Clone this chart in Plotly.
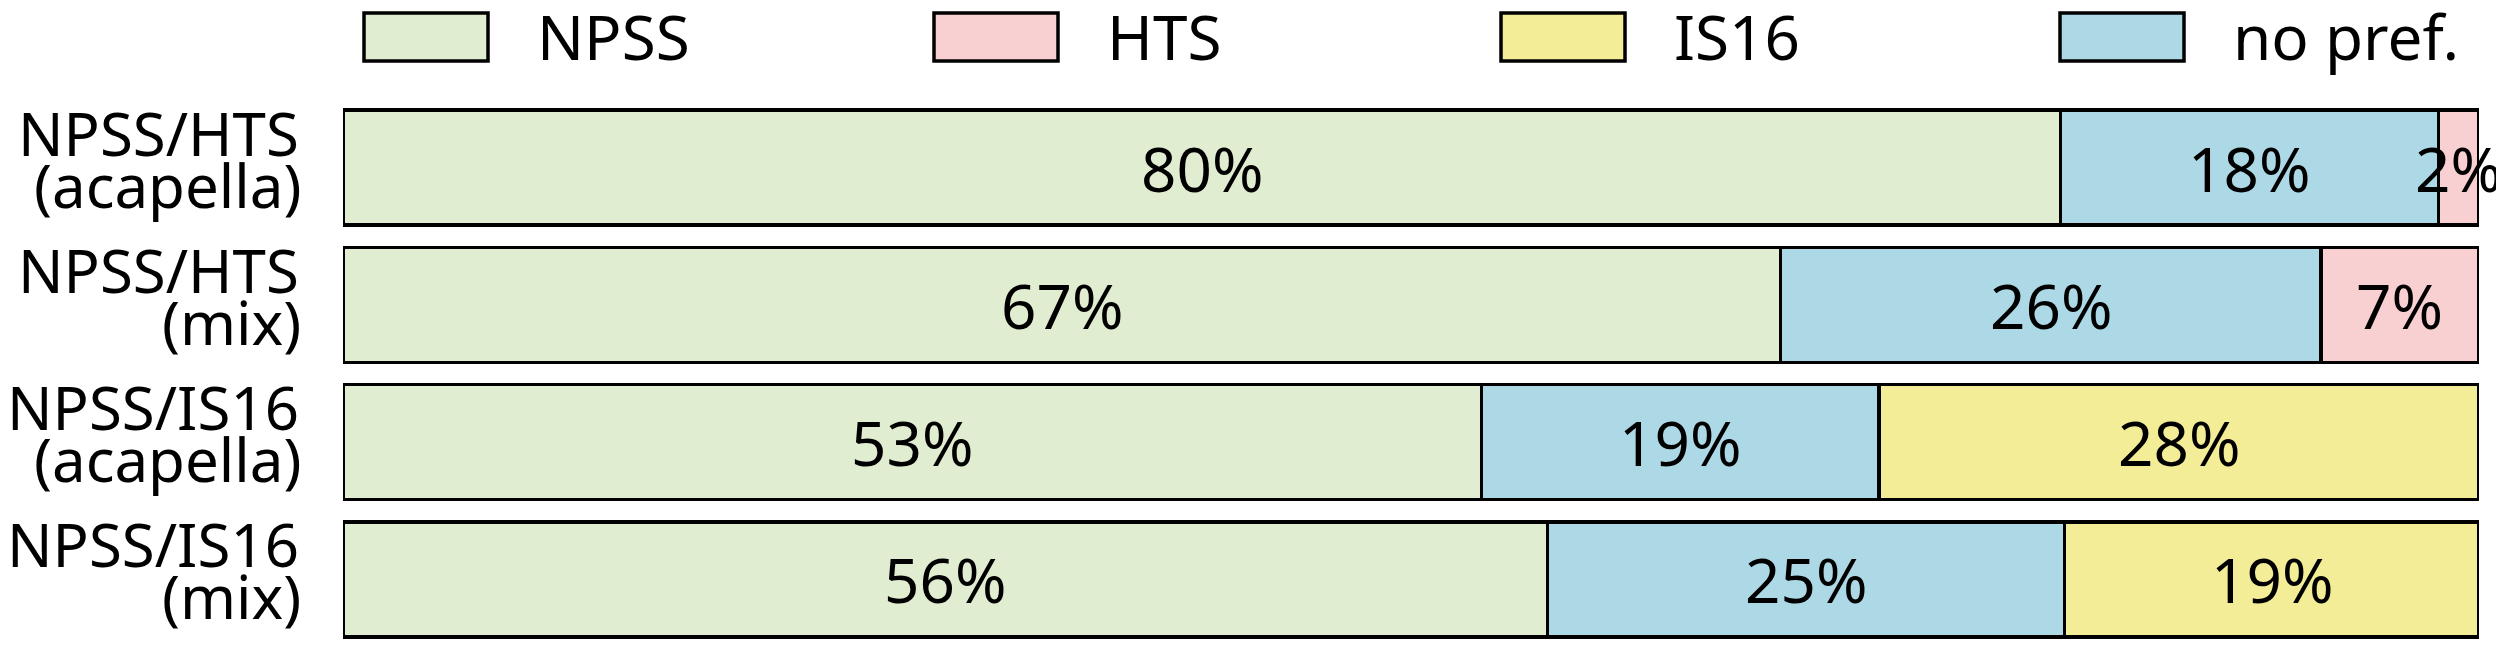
import plotly.graph_objects as go

categories = ["NPSS/HTS (acapella)", "NPSS/HTS (mix)", "NPSS/IS16 (acapella)", "NPSS/IS16 (mix)"]
label_line1 = ["NPSS/HTS", "NPSS/HTS", "NPSS/IS16", "NPSS/IS16"]
label_line2 = ["(acapella)", "(mix)", "(acapella)", "(mix)"]

npss = [80.4, 67.3, 53.3, 56.4]
nopref = [17.7, 25.3, 18.6, 24.2]
hts = [1.9, 7.4, None, None]
is16 = [None, None, 28.1, 19.4]

npss_text = ["80%", "67%", "53%", "56%"]
nopref_text = ["18%", "26%", "19%", "25%"]
hts_text = ["2%", "7%", None, None]
is16_text = [None, None, "28%", "19%"]

legend_names = ["NPSS", "HTS", "IS16", "no pref."]

C_NPSS = "#e1edd0"
C_HTS = "#f9d0d1"
C_IS16 = "#f3ed97"
C_NOPREF = "#add8e6"
legend_colors = [C_NPSS, C_HTS, C_IS16, C_NOPREF]

FONT = "Noto Sans"
BAR_FONT = 62
LABEL_FONT = 60
LEG_FONT = 62

# page offset (body margin) compensation
OFF = 8
PAGE_W, PAGE_H = 2504, 662
W, H = PAGE_W - OFF, PAGE_H - OFF
# target plot area in page pixels
PL, PR, PT, PB = 343, 2479, 99, 648
ML = PL - OFF
MT = PT - OFF
MR = W + OFF - PR
MB = H + OFF - PB
PW = PR - PL
PH = PB - PT

fig = go.Figure()
annotations = []

series = [
    (npss, npss_text, C_NPSS, "NPSS"),
    (nopref, nopref_text, C_NOPREF, "no pref."),
    (hts, hts_text, C_HTS, "HTS"),
    (is16, is16_text, C_IS16, "IS16"),
]

base = [0.0] * len(categories)
for vals, txt, color, name in series:
    fig.add_trace(go.Bar(
        y=categories, x=vals, orientation="h", name=name,
        marker=dict(color=color, line=dict(color="black", width=3.5)),
        showlegend=False, hoverinfo="skip",
    ))
    for i, (v, t) in enumerate(zip(vals, txt)):
        if v is None:
            continue
        annotations.append(dict(x=base[i] + v / 2.0, y=categories[i], xref="x", yref="y",
                                text=t, showarrow=False, xanchor="center", yanchor="middle",
                                font=dict(family=FONT, size=BAR_FONT, color="black")))
        base[i] += v

for cat, l1, l2 in zip(categories, label_line1, label_line2):
    annotations.append(dict(x=0, y=cat, xref="paper", yref="y", text=l1, showarrow=False,
                            xanchor="right", yanchor="middle", xshift=-42, yshift=35,
                            font=dict(family=FONT, size=LABEL_FONT, color="black")))
    annotations.append(dict(x=0, y=cat, xref="paper", yref="y", text=l2, showarrow=False,
                            xanchor="right", yanchor="middle", xshift=-40, yshift=-17,
                            font=dict(family=FONT, size=LABEL_FONT, color="black")))

def px2x(px):
    return (px - PL) / PW

def py2y(py):
    return (PB - py) / PH

shapes = []
box_lefts = [364, 934, 1501, 2060]
for left, name, color in zip(box_lefts, legend_names, legend_colors):
    shapes.append(dict(type="rect", xref="paper", yref="paper",
                       x0=px2x(left), x1=px2x(left + 124), y0=py2y(61), y1=py2y(13),
                       fillcolor=color, line=dict(color="black", width=3.5)))
    annotations.append(dict(x=px2x(left + 171), y=py2y(36), xref="paper", yref="paper",
                            text=name, showarrow=False, xanchor="left", yanchor="middle",
                            font=dict(family=FONT, size=LEG_FONT, color="black")))

fig.update_layout(
    width=W, height=H,
    margin=dict(l=ML, r=MR, t=MT, b=MB, pad=0, autoexpand=False),
    barmode="stack", bargap=0.162,
    plot_bgcolor="white", paper_bgcolor="white",
    xaxis=dict(range=[0, 100], autorange=False, visible=False, fixedrange=True),
    yaxis=dict(categoryorder="array", categoryarray=categories,
               range=[3.5, -0.5], autorange=False,
               showticklabels=False, showgrid=False, zeroline=False, ticks=""),
    annotations=annotations, shapes=shapes,
    font=dict(family=FONT, color="black"),
)

fig.write_html("out.html")
